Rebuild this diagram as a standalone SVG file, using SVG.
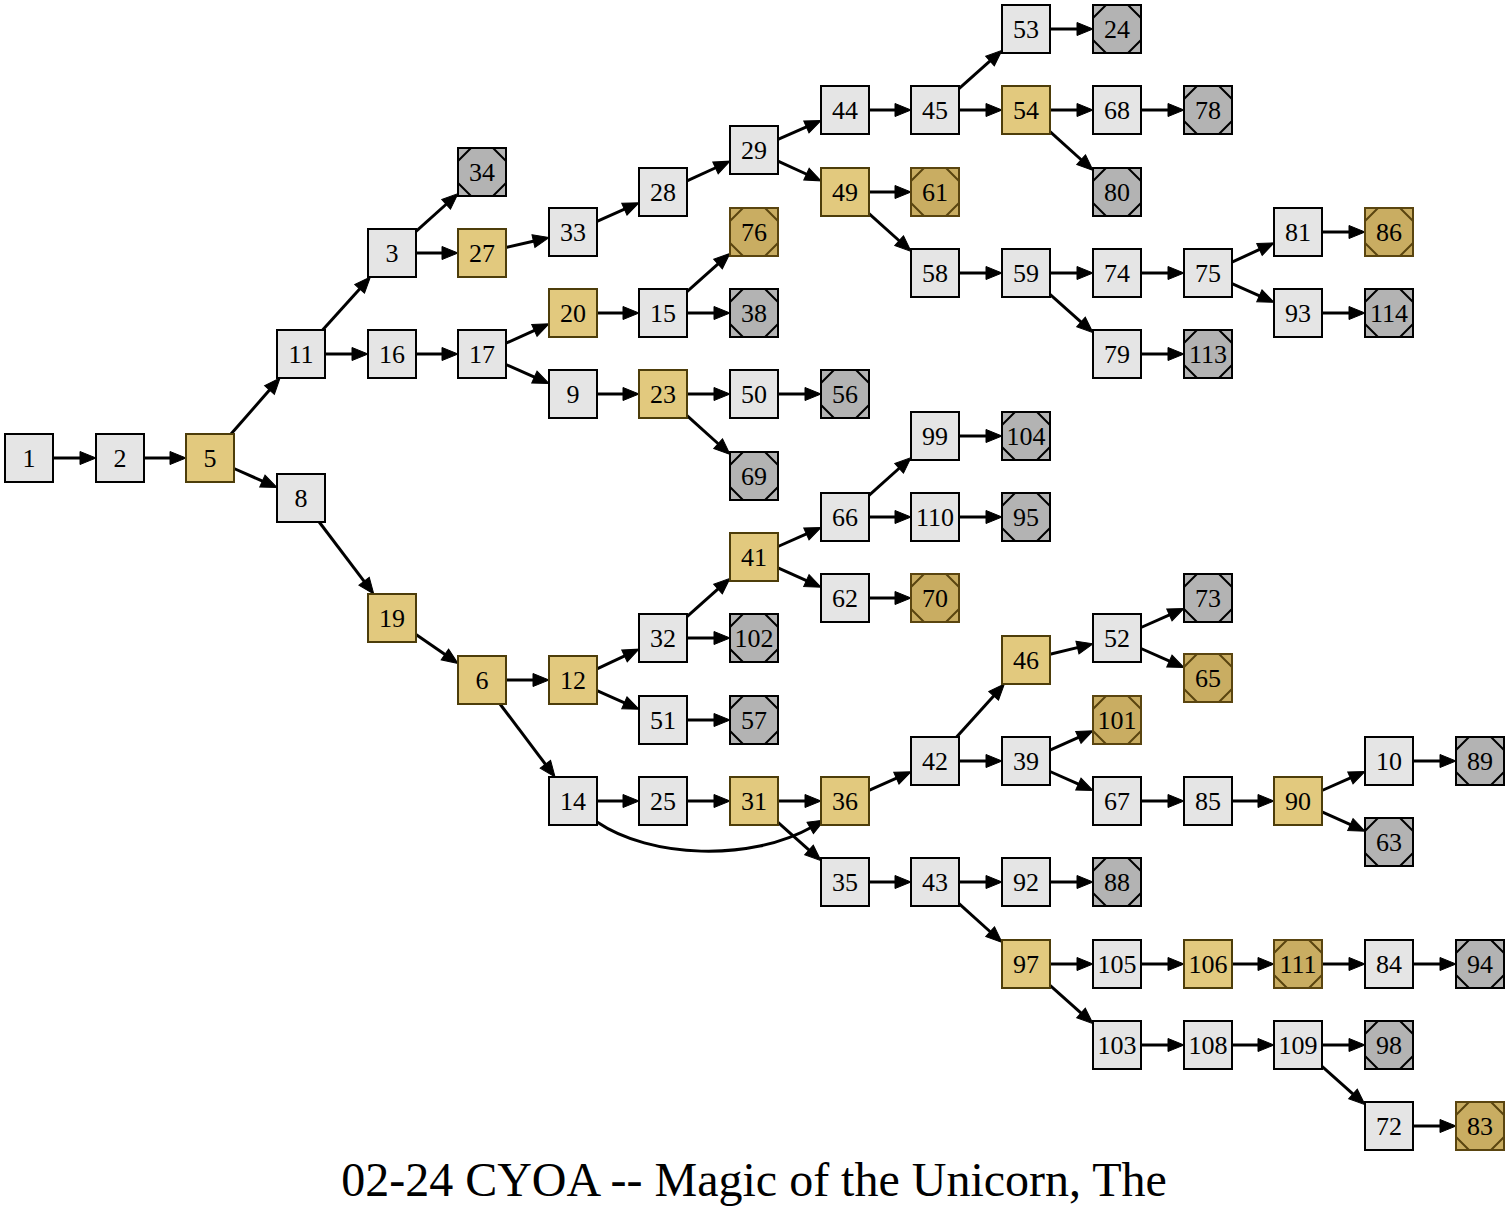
<svg xmlns="http://www.w3.org/2000/svg" xmlns:xlink="http://www.w3.org/1999/xlink" width="1509" height="1215" viewBox="0 0 1509 1215">
<style>
.node rect{stroke-width:2}
.l rect{fill:#e5e5e5;stroke:#000}
.g rect{fill:#e2c97e;stroke:#4d3d0a}
.x rect{fill:#b3b3b3;stroke:#000}
.y rect{fill:#c9ad62;stroke:#5a4510}
.x use{stroke:#000;stroke-width:2;fill:none}
.y use{stroke:#5a4510;stroke-width:2;fill:none}
.node text{font-family:"Liberation Serif","Times New Roman",serif;font-size:26px;text-anchor:middle;fill:#000}
#edges line,#edges path{stroke:#000;stroke-width:3;fill:none;marker-end:url(#ah)}
.title{font-family:"Liberation Serif","Times New Roman",serif;font-size:48px;text-anchor:middle;fill:#000}
</style>
<defs>
<marker id="ah" markerUnits="userSpaceOnUse" markerWidth="20" markerHeight="16" refX="2" refY="0" viewBox="0 -8 20 16" orient="auto" overflow="visible">
<path d="M0,-6.5L16,0L0,6.5Z" fill="#000" stroke="#000" stroke-width="1"/>
</marker>
<path id="ms" d="M-24,-11L-11,-24M11,-24L24,-11M24,11L11,24M-11,24L-24,11"/>
</defs>
<rect width="1509" height="1215" fill="#fff"/>
<g id="edges">
<line x1="53" y1="458" x2="82" y2="458"/>
<line x1="144" y1="458" x2="172" y2="458"/>
<line x1="231" y1="434" x2="270.8" y2="388.5"/>
<line x1="234" y1="468.5" x2="264.2" y2="481.9"/>
<line x1="322.6" y1="330" x2="361" y2="287.4"/>
<line x1="325" y1="354" x2="354" y2="354"/>
<line x1="416" y1="231.4" x2="447.6" y2="203"/>
<line x1="416" y1="253" x2="444" y2="253"/>
<line x1="416" y1="354" x2="444" y2="354"/>
<line x1="506" y1="247.5" x2="535.4" y2="240.7"/>
<line x1="597" y1="221.3" x2="626.2" y2="208.4"/>
<line x1="687" y1="180.9" x2="717.3" y2="167"/>
<line x1="778" y1="139.45" x2="808.2" y2="126.2"/>
<line x1="778" y1="161.1" x2="808.3" y2="175"/>
<line x1="869" y1="110" x2="897" y2="110"/>
<line x1="959" y1="88.6" x2="991.5" y2="59.7"/>
<line x1="959" y1="110" x2="988" y2="110"/>
<line x1="1050" y1="29" x2="1079" y2="29"/>
<line x1="1050" y1="110" x2="1079" y2="110"/>
<line x1="1050" y1="131.6" x2="1082.6" y2="161"/>
<line x1="1141" y1="110" x2="1170" y2="110"/>
<line x1="869" y1="192" x2="897" y2="192"/>
<line x1="869" y1="213.6" x2="900.6" y2="242"/>
<line x1="959" y1="273" x2="988" y2="273"/>
<line x1="1050" y1="273" x2="1079" y2="273"/>
<line x1="1050" y1="294.4" x2="1082.5" y2="323.3"/>
<line x1="1141" y1="273" x2="1170" y2="273"/>
<line x1="1141" y1="354" x2="1170" y2="354"/>
<line x1="1232" y1="262.1" x2="1261.3" y2="248.7"/>
<line x1="1232" y1="283.7" x2="1261.2" y2="296.6"/>
<line x1="1322" y1="232" x2="1351" y2="232"/>
<line x1="1322" y1="313" x2="1351" y2="313"/>
<line x1="506" y1="343.2" x2="536.2" y2="329.6"/>
<line x1="506" y1="364.5" x2="536.2" y2="377.9"/>
<line x1="597" y1="313" x2="625" y2="313"/>
<line x1="687" y1="291.6" x2="719.5" y2="262.7"/>
<line x1="687" y1="313" x2="716" y2="313"/>
<line x1="597" y1="394" x2="625" y2="394"/>
<line x1="687" y1="394" x2="716" y2="394"/>
<line x1="687" y1="415.6" x2="719.6" y2="445"/>
<line x1="778" y1="394" x2="807" y2="394"/>
<line x1="319.2" y1="522" x2="365.3" y2="582.8"/>
<line x1="416" y1="634.5" x2="446.5" y2="655.6"/>
<line x1="506" y1="680" x2="535" y2="680"/>
<line x1="500" y1="704" x2="546.6" y2="765.8"/>
<line x1="597" y1="668.8" x2="626.3" y2="655.1"/>
<line x1="597" y1="690.7" x2="626.2" y2="703.6"/>
<line x1="687" y1="616.6" x2="719.5" y2="587.7"/>
<line x1="687" y1="638" x2="716" y2="638"/>
<line x1="687" y1="720" x2="716" y2="720"/>
<line x1="778" y1="546.5" x2="808.2" y2="533.1"/>
<line x1="778" y1="567.8" x2="808.2" y2="581.4"/>
<line x1="869" y1="495.4" x2="900.6" y2="467"/>
<line x1="869" y1="517" x2="897" y2="517"/>
<line x1="959" y1="436" x2="988" y2="436"/>
<line x1="959" y1="517" x2="988" y2="517"/>
<line x1="869" y1="598" x2="897" y2="598"/>
<line x1="597" y1="801" x2="625" y2="801"/>
<path d="M597,822C650,858 750,862 812,827"/>
<line x1="687" y1="801" x2="716" y2="801"/>
<line x1="778" y1="801" x2="807" y2="801"/>
<line x1="778" y1="822.4" x2="810.5" y2="851.3"/>
<line x1="869" y1="790.3" x2="898.2" y2="777.4"/>
<line x1="956.6" y1="737" x2="995" y2="694.4"/>
<line x1="959" y1="761" x2="988" y2="761"/>
<line x1="1050" y1="654.2" x2="1079.4" y2="647.1"/>
<line x1="1141" y1="627.5" x2="1171.2" y2="614.1"/>
<line x1="1141" y1="648.5" x2="1171.2" y2="661.9"/>
<line x1="1050" y1="750.2" x2="1080.2" y2="736.6"/>
<line x1="1050" y1="771.5" x2="1080.2" y2="784.9"/>
<line x1="1141" y1="801" x2="1170" y2="801"/>
<line x1="1232" y1="801" x2="1260" y2="801"/>
<line x1="1322" y1="790.5" x2="1352.2" y2="777.1"/>
<line x1="1322" y1="811.8" x2="1352.2" y2="825.4"/>
<line x1="1413" y1="761" x2="1442" y2="761"/>
<line x1="869" y1="882" x2="897" y2="882"/>
<line x1="959" y1="882" x2="988" y2="882"/>
<line x1="1050" y1="882" x2="1079" y2="882"/>
<line x1="959" y1="903.6" x2="991.6" y2="933"/>
<line x1="1050" y1="964" x2="1079" y2="964"/>
<line x1="1050" y1="985.4" x2="1082.5" y2="1014.3"/>
<line x1="1141" y1="964" x2="1170" y2="964"/>
<line x1="1232" y1="964" x2="1260" y2="964"/>
<line x1="1322" y1="964" x2="1351" y2="964"/>
<line x1="1413" y1="964" x2="1442" y2="964"/>
<line x1="1141" y1="1045" x2="1170" y2="1045"/>
<line x1="1232" y1="1045" x2="1260" y2="1045"/>
<line x1="1322" y1="1045" x2="1351" y2="1045"/>
<line x1="1322" y1="1066.4" x2="1354.5" y2="1095.3"/>
<line x1="1413" y1="1126" x2="1442" y2="1126"/>
</g>
<g id="n1" class="node l" transform="translate(29,458)"><rect x="-24" y="-24" width="48" height="48"/><text y="9">1</text></g>
<g id="n2" class="node l" transform="translate(120,458)"><rect x="-24" y="-24" width="48" height="48"/><text y="9">2</text></g>
<g id="n5" class="node g" transform="translate(210,458)"><rect x="-24" y="-24" width="48" height="48"/><text y="9">5</text></g>
<g id="n11" class="node l" transform="translate(301,354)"><rect x="-24" y="-24" width="48" height="48"/><text y="9">11</text></g>
<g id="n8" class="node l" transform="translate(301,498)"><rect x="-24" y="-24" width="48" height="48"/><text y="9">8</text></g>
<g id="n3" class="node l" transform="translate(392,253)"><rect x="-24" y="-24" width="48" height="48"/><text y="9">3</text></g>
<g id="n16" class="node l" transform="translate(392,354)"><rect x="-24" y="-24" width="48" height="48"/><text y="9">16</text></g>
<g id="n19" class="node g" transform="translate(392,618)"><rect x="-24" y="-24" width="48" height="48"/><text y="9">19</text></g>
<g id="n34" class="node x" transform="translate(482,172)"><rect x="-24" y="-24" width="48" height="48"/><use xlink:href="#ms"/><text y="9">34</text></g>
<g id="n27" class="node g" transform="translate(482,253)"><rect x="-24" y="-24" width="48" height="48"/><text y="9">27</text></g>
<g id="n17" class="node l" transform="translate(482,354)"><rect x="-24" y="-24" width="48" height="48"/><text y="9">17</text></g>
<g id="n6" class="node g" transform="translate(482,680)"><rect x="-24" y="-24" width="48" height="48"/><text y="9">6</text></g>
<g id="n33" class="node l" transform="translate(573,232)"><rect x="-24" y="-24" width="48" height="48"/><text y="9">33</text></g>
<g id="n20" class="node g" transform="translate(573,313)"><rect x="-24" y="-24" width="48" height="48"/><text y="9">20</text></g>
<g id="n9" class="node l" transform="translate(573,394)"><rect x="-24" y="-24" width="48" height="48"/><text y="9">9</text></g>
<g id="n12" class="node g" transform="translate(573,680)"><rect x="-24" y="-24" width="48" height="48"/><text y="9">12</text></g>
<g id="n14" class="node l" transform="translate(573,801)"><rect x="-24" y="-24" width="48" height="48"/><text y="9">14</text></g>
<g id="n28" class="node l" transform="translate(663,192)"><rect x="-24" y="-24" width="48" height="48"/><text y="9">28</text></g>
<g id="n15" class="node l" transform="translate(663,313)"><rect x="-24" y="-24" width="48" height="48"/><text y="9">15</text></g>
<g id="n23" class="node g" transform="translate(663,394)"><rect x="-24" y="-24" width="48" height="48"/><text y="9">23</text></g>
<g id="n32" class="node l" transform="translate(663,638)"><rect x="-24" y="-24" width="48" height="48"/><text y="9">32</text></g>
<g id="n51" class="node l" transform="translate(663,720)"><rect x="-24" y="-24" width="48" height="48"/><text y="9">51</text></g>
<g id="n25" class="node l" transform="translate(663,801)"><rect x="-24" y="-24" width="48" height="48"/><text y="9">25</text></g>
<g id="n29" class="node l" transform="translate(754,150)"><rect x="-24" y="-24" width="48" height="48"/><text y="9">29</text></g>
<g id="n76" class="node y" transform="translate(754,232)"><rect x="-24" y="-24" width="48" height="48"/><use xlink:href="#ms"/><text y="9">76</text></g>
<g id="n38" class="node x" transform="translate(754,313)"><rect x="-24" y="-24" width="48" height="48"/><use xlink:href="#ms"/><text y="9">38</text></g>
<g id="n50" class="node l" transform="translate(754,394)"><rect x="-24" y="-24" width="48" height="48"/><text y="9">50</text></g>
<g id="n69" class="node x" transform="translate(754,476)"><rect x="-24" y="-24" width="48" height="48"/><use xlink:href="#ms"/><text y="9">69</text></g>
<g id="n41" class="node g" transform="translate(754,557)"><rect x="-24" y="-24" width="48" height="48"/><text y="9">41</text></g>
<g id="n102" class="node x" transform="translate(754,638)"><rect x="-24" y="-24" width="48" height="48"/><use xlink:href="#ms"/><text y="9">102</text></g>
<g id="n57" class="node x" transform="translate(754,720)"><rect x="-24" y="-24" width="48" height="48"/><use xlink:href="#ms"/><text y="9">57</text></g>
<g id="n31" class="node g" transform="translate(754,801)"><rect x="-24" y="-24" width="48" height="48"/><text y="9">31</text></g>
<g id="n44" class="node l" transform="translate(845,110)"><rect x="-24" y="-24" width="48" height="48"/><text y="9">44</text></g>
<g id="n49" class="node g" transform="translate(845,192)"><rect x="-24" y="-24" width="48" height="48"/><text y="9">49</text></g>
<g id="n56" class="node x" transform="translate(845,394)"><rect x="-24" y="-24" width="48" height="48"/><use xlink:href="#ms"/><text y="9">56</text></g>
<g id="n66" class="node l" transform="translate(845,517)"><rect x="-24" y="-24" width="48" height="48"/><text y="9">66</text></g>
<g id="n62" class="node l" transform="translate(845,598)"><rect x="-24" y="-24" width="48" height="48"/><text y="9">62</text></g>
<g id="n36" class="node g" transform="translate(845,801)"><rect x="-24" y="-24" width="48" height="48"/><text y="9">36</text></g>
<g id="n35" class="node l" transform="translate(845,882)"><rect x="-24" y="-24" width="48" height="48"/><text y="9">35</text></g>
<g id="n45" class="node l" transform="translate(935,110)"><rect x="-24" y="-24" width="48" height="48"/><text y="9">45</text></g>
<g id="n61" class="node y" transform="translate(935,192)"><rect x="-24" y="-24" width="48" height="48"/><use xlink:href="#ms"/><text y="9">61</text></g>
<g id="n58" class="node l" transform="translate(935,273)"><rect x="-24" y="-24" width="48" height="48"/><text y="9">58</text></g>
<g id="n99" class="node l" transform="translate(935,436)"><rect x="-24" y="-24" width="48" height="48"/><text y="9">99</text></g>
<g id="n110" class="node l" transform="translate(935,517)"><rect x="-24" y="-24" width="48" height="48"/><text y="9">110</text></g>
<g id="n70" class="node y" transform="translate(935,598)"><rect x="-24" y="-24" width="48" height="48"/><use xlink:href="#ms"/><text y="9">70</text></g>
<g id="n42" class="node l" transform="translate(935,761)"><rect x="-24" y="-24" width="48" height="48"/><text y="9">42</text></g>
<g id="n43" class="node l" transform="translate(935,882)"><rect x="-24" y="-24" width="48" height="48"/><text y="9">43</text></g>
<g id="n53" class="node l" transform="translate(1026,29)"><rect x="-24" y="-24" width="48" height="48"/><text y="9">53</text></g>
<g id="n54" class="node g" transform="translate(1026,110)"><rect x="-24" y="-24" width="48" height="48"/><text y="9">54</text></g>
<g id="n59" class="node l" transform="translate(1026,273)"><rect x="-24" y="-24" width="48" height="48"/><text y="9">59</text></g>
<g id="n104" class="node x" transform="translate(1026,436)"><rect x="-24" y="-24" width="48" height="48"/><use xlink:href="#ms"/><text y="9">104</text></g>
<g id="n95" class="node x" transform="translate(1026,517)"><rect x="-24" y="-24" width="48" height="48"/><use xlink:href="#ms"/><text y="9">95</text></g>
<g id="n46" class="node g" transform="translate(1026,660)"><rect x="-24" y="-24" width="48" height="48"/><text y="9">46</text></g>
<g id="n39" class="node l" transform="translate(1026,761)"><rect x="-24" y="-24" width="48" height="48"/><text y="9">39</text></g>
<g id="n92" class="node l" transform="translate(1026,882)"><rect x="-24" y="-24" width="48" height="48"/><text y="9">92</text></g>
<g id="n97" class="node g" transform="translate(1026,964)"><rect x="-24" y="-24" width="48" height="48"/><text y="9">97</text></g>
<g id="n24" class="node x" transform="translate(1117,29)"><rect x="-24" y="-24" width="48" height="48"/><use xlink:href="#ms"/><text y="9">24</text></g>
<g id="n68" class="node l" transform="translate(1117,110)"><rect x="-24" y="-24" width="48" height="48"/><text y="9">68</text></g>
<g id="n80" class="node x" transform="translate(1117,192)"><rect x="-24" y="-24" width="48" height="48"/><use xlink:href="#ms"/><text y="9">80</text></g>
<g id="n74" class="node l" transform="translate(1117,273)"><rect x="-24" y="-24" width="48" height="48"/><text y="9">74</text></g>
<g id="n79" class="node l" transform="translate(1117,354)"><rect x="-24" y="-24" width="48" height="48"/><text y="9">79</text></g>
<g id="n52" class="node l" transform="translate(1117,638)"><rect x="-24" y="-24" width="48" height="48"/><text y="9">52</text></g>
<g id="n101" class="node y" transform="translate(1117,720)"><rect x="-24" y="-24" width="48" height="48"/><use xlink:href="#ms"/><text y="9">101</text></g>
<g id="n67" class="node l" transform="translate(1117,801)"><rect x="-24" y="-24" width="48" height="48"/><text y="9">67</text></g>
<g id="n88" class="node x" transform="translate(1117,882)"><rect x="-24" y="-24" width="48" height="48"/><use xlink:href="#ms"/><text y="9">88</text></g>
<g id="n105" class="node l" transform="translate(1117,964)"><rect x="-24" y="-24" width="48" height="48"/><text y="9">105</text></g>
<g id="n103" class="node l" transform="translate(1117,1045)"><rect x="-24" y="-24" width="48" height="48"/><text y="9">103</text></g>
<g id="n78" class="node x" transform="translate(1208,110)"><rect x="-24" y="-24" width="48" height="48"/><use xlink:href="#ms"/><text y="9">78</text></g>
<g id="n75" class="node l" transform="translate(1208,273)"><rect x="-24" y="-24" width="48" height="48"/><text y="9">75</text></g>
<g id="n113" class="node x" transform="translate(1208,354)"><rect x="-24" y="-24" width="48" height="48"/><use xlink:href="#ms"/><text y="9">113</text></g>
<g id="n73" class="node x" transform="translate(1208,598)"><rect x="-24" y="-24" width="48" height="48"/><use xlink:href="#ms"/><text y="9">73</text></g>
<g id="n65" class="node y" transform="translate(1208,678)"><rect x="-24" y="-24" width="48" height="48"/><use xlink:href="#ms"/><text y="9">65</text></g>
<g id="n85" class="node l" transform="translate(1208,801)"><rect x="-24" y="-24" width="48" height="48"/><text y="9">85</text></g>
<g id="n106" class="node g" transform="translate(1208,964)"><rect x="-24" y="-24" width="48" height="48"/><text y="9">106</text></g>
<g id="n108" class="node l" transform="translate(1208,1045)"><rect x="-24" y="-24" width="48" height="48"/><text y="9">108</text></g>
<g id="n81" class="node l" transform="translate(1298,232)"><rect x="-24" y="-24" width="48" height="48"/><text y="9">81</text></g>
<g id="n93" class="node l" transform="translate(1298,313)"><rect x="-24" y="-24" width="48" height="48"/><text y="9">93</text></g>
<g id="n90" class="node g" transform="translate(1298,801)"><rect x="-24" y="-24" width="48" height="48"/><text y="9">90</text></g>
<g id="n111" class="node y" transform="translate(1298,964)"><rect x="-24" y="-24" width="48" height="48"/><use xlink:href="#ms"/><text y="9">111</text></g>
<g id="n109" class="node l" transform="translate(1298,1045)"><rect x="-24" y="-24" width="48" height="48"/><text y="9">109</text></g>
<g id="n86" class="node y" transform="translate(1389,232)"><rect x="-24" y="-24" width="48" height="48"/><use xlink:href="#ms"/><text y="9">86</text></g>
<g id="n114" class="node x" transform="translate(1389,313)"><rect x="-24" y="-24" width="48" height="48"/><use xlink:href="#ms"/><text y="9">114</text></g>
<g id="n10" class="node l" transform="translate(1389,761)"><rect x="-24" y="-24" width="48" height="48"/><text y="9">10</text></g>
<g id="n63" class="node x" transform="translate(1389,842)"><rect x="-24" y="-24" width="48" height="48"/><use xlink:href="#ms"/><text y="9">63</text></g>
<g id="n84" class="node l" transform="translate(1389,964)"><rect x="-24" y="-24" width="48" height="48"/><text y="9">84</text></g>
<g id="n98" class="node x" transform="translate(1389,1045)"><rect x="-24" y="-24" width="48" height="48"/><use xlink:href="#ms"/><text y="9">98</text></g>
<g id="n72" class="node l" transform="translate(1389,1126)"><rect x="-24" y="-24" width="48" height="48"/><text y="9">72</text></g>
<g id="n89" class="node x" transform="translate(1480,761)"><rect x="-24" y="-24" width="48" height="48"/><use xlink:href="#ms"/><text y="9">89</text></g>
<g id="n94" class="node x" transform="translate(1480,964)"><rect x="-24" y="-24" width="48" height="48"/><use xlink:href="#ms"/><text y="9">94</text></g>
<g id="n83" class="node y" transform="translate(1480,1126)"><rect x="-24" y="-24" width="48" height="48"/><use xlink:href="#ms"/><text y="9">83</text></g>
<text class="title" x="754" y="1196">02-24 CYOA -- Magic of the Unicorn, The</text>
</svg>
